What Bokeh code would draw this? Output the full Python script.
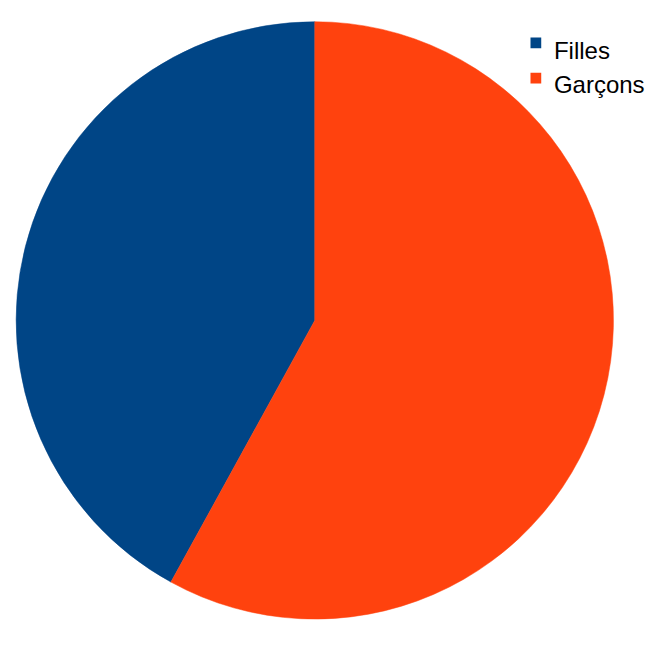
import numpy as np
from bokeh.plotting import figure
from bokeh.models import ColumnDataSource, Range1d
from bokeh.core.properties import value
from bokeh.embed import file_html
from bokeh.resources import INLINE

categories = ["Filles", "Garçons"]
values = [42, 58]
colors = ["#004586", "#ff420e"]

# data space mirrors the reference picture (668 x 646), drawn into a 652 x 630 figure
RW, RH = 668, 646
W, H = 652, 630
p = figure(width=W, height=H, output_backend="svg", toolbar_location=None,
           x_range=Range1d(0, RW), y_range=Range1d(0, RH), min_border=0,
           outline_line_color=None)
p.axis.visible = False
p.grid.visible = False
p.background_fill_color = "white"

v = np.array(values, dtype=float)
frac = v / v.sum()
cum = np.concatenate([[0], np.cumsum(frac)])
start = np.pi / 2 + 2 * np.pi * cum[:-1]
end = np.pi / 2 + 2 * np.pi * cum[1:]

src = ColumnDataSource(dict(cat=categories, start=start, end=end, color=colors,
                            lx=[548.5] * 2, ly=[RH - 43.5 - 36 * i for i in range(2)],
                            tx=[567] * 2, ty=[RH - 51.7 - 34.5 * i for i in range(2)]))
p.wedge(x=322, y=RH - 328, radius=306, start_angle="start", end_angle="end",
        fill_color="color", line_color="color", line_width=0.5, source=src)

p.rect(x="lx", y="ly", width=11, height=11, fill_color="color", line_color=None, source=src)
p.text(x="tx", y="ty", text="cat", text_font=value("Liberation Sans"),
       text_font_size="24px", text_color="black", text_baseline="alphabetic",
       source=src)

open("out.html", "w").write(file_html(p, INLINE))
